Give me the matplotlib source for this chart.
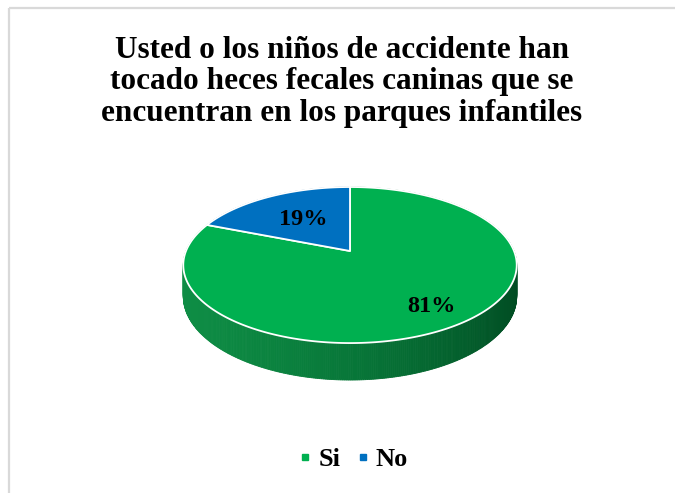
import numpy as np
import matplotlib
matplotlib.use("Agg")
import matplotlib.pyplot as plt
from matplotlib.patches import Polygon, Rectangle
from matplotlib.colors import to_rgb

# ---- data ----
title_lines = ["Usted o los niños de accidente han",
               "tocado heces fecales caninas que se",
               "encuentran en los parques infantiles"]
categories = ["Si", "No"]
values = [81, 19]
colors = ["#00B050", "#0070C0"]

# ---- figure in pixel-like coordinates ----
W, H = 675, 493
fig = plt.figure(figsize=(W / 100, H / 100), dpi=100)
ax = fig.add_axes([0, 0, 1, 1])
ax.set_xlim(0, W)
ax.set_ylim(H, 0)
ax.axis("off")

serif = ["Liberation Serif", "DejaVu Serif"]

# chart frame
ax.add_patch(Rectangle((8.5, 7.5), 720, 520, fill=False, edgecolor="#d9d9d9", lw=1.6))

# ---- 3D pie geometry (perspective-projected disk) ----
cx, cy = 350.0, 251.0      # projected centre of the disk
A, B = 164.0, 75.5         # horizontal / vertical scale
k = 0.18                   # perspective strength
D = 30.3                   # thickness of the pie


def project(theta, r=1.0):
    """theta: clockwise angle from 12 o'clock (radians)."""
    u = r * np.sin(theta)
    v = r * np.cos(theta)
    w = 1 + k * v
    return cx + A * u / w, cy - B * v / w, w


total = float(sum(values))
bounds = np.concatenate([[0], np.cumsum(values) / total]) * 2 * np.pi

# side wall, drawn back to front
side_quads = []
for i, (a0, a1) in enumerate(zip(bounds[:-1], bounds[1:])):
    t = np.linspace(a0, a1, max(int(600 * (a1 - a0) / (2 * np.pi)), 4))
    base = np.array(to_rgb(colors[i]))
    for ta, tb in zip(t[:-1], t[1:]):
        xa, ya, wa = project(ta)
        xb, yb, wb = project(tb)
        u_mid = np.sin(0.5 * (ta + tb))
        depth = np.cos(0.5 * (ta + tb))
        f = 0.80 - 0.38 * ((u_mid + 1) / 2) ** 1.6
        col = np.clip(base * f + np.array([0.06, 0.0, 0.02]) * (1 - (u_mid + 1) / 2), 0, 1)
        quad = [(xa, ya), (xb, yb), (xb, yb + D / wb), (xa, ya + D / wa)]
        side_quads.append((depth, quad, col))

for depth, quad, col in sorted(side_quads, key=lambda q: -q[0]):
    ax.add_patch(Polygon(quad, closed=True, facecolor=col, edgecolor=col, lw=0.6))

# top face slices
for i, (a0, a1) in enumerate(zip(bounds[:-1], bounds[1:])):
    t = np.linspace(a0, a1, 300)
    xs, ys, _ = project(t)
    pts = [(cx, cy)] + list(zip(xs, ys))
    ax.add_patch(Polygon(pts, closed=True, facecolor=colors[i],
                         edgecolor="white", lw=1.3, joinstyle="round"))

# value labels
label_r = [0.78, 0.55]
for i, (a0, a1) in enumerate(zip(bounds[:-1], bounds[1:])):
    mid = 0.5 * (a0 + a1)
    lx, ly, _ = project(mid, label_r[i])
    ax.text(lx, ly, f"{values[i]}%", ha="center", va="center",
            fontsize=17.5, fontweight="bold", family=serif, color="black")

# title, one line per baseline
for j, line in enumerate(title_lines):
    ax.text(342, 57.5 + 31.5 * j, line, ha="center", va="baseline", fontsize=22.5,
            fontweight="bold", family=serif, color="black")

# legend
leg_x = [305.3, 362.5]
txt_x = [319, 376]
for i, name in enumerate(categories):
    ax.plot([leg_x[i]], [456.7], marker="s", markersize=4.8, color=colors[i], ls="none")
    ax.text(txt_x[i], 466, name, ha="left", va="baseline", fontsize=19,
            fontweight="bold", family=serif, color="black")

fig.savefig("out.png", dpi=100)
